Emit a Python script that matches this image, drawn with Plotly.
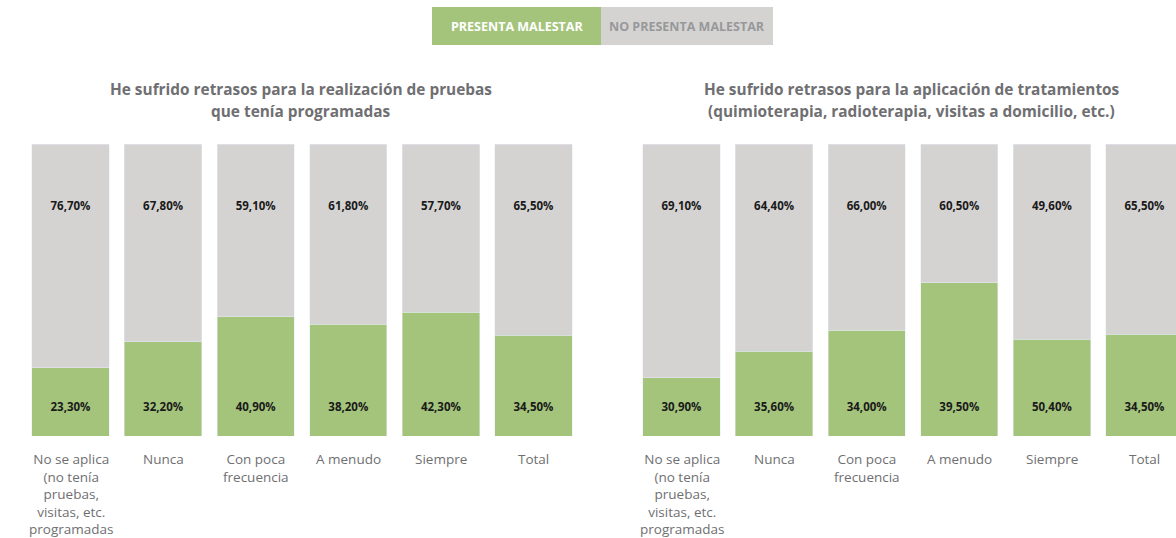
import plotly.graph_objects as go

# ---------------- data ----------------
categories = ["No se aplica<br>(no tenía<br>pruebas,<br>visitas, etc.<br>programadas",
              "Nunca", "Con poca<br>frecuencia", "A menudo", "Siempre", "Total"]

left_title = ["He sufrido retrasos para la realización de pruebas", "que tenía programadas"]
right_title = ["He sufrido retrasos para la aplicación de tratamientos",
               "(quimioterapia, radioterapia, visitas a domicilio, etc.)"]

# left chart: presenta / no presenta malestar (%)
left_presenta = [23.3, 32.2, 40.9, 38.2, 42.3, 34.5]
left_no_presenta = [76.7, 67.8, 59.1, 61.8, 57.7, 65.5]

# right chart: printed labels
right_presenta_labels = [30.9, 35.6, 34.0, 39.5, 50.4, 34.5]
right_no_presenta_labels = [69.1, 64.4, 66.0, 60.5, 49.6, 65.5]
# right chart: bar heights as drawn in the picture (%)
right_presenta_drawn = [19.9, 29.1, 36.3, 52.4, 33.2, 34.9]

legend_names = ["PRESENTA MALESTAR", "NO PRESENTA MALESTAR"]

# ---------------- style ----------------
GREEN = "#a4c47c"
GRAY = "#d4d3d2"
TITLE_C = "#6f6f72"
LABEL_C = "#6f6f72"
FONT = "Open Sans"
W, H = 1176, 538


def fmt(v):
    return f"{v:.2f}".replace(".", ",") + "%"


def py(p):
    return 1 - p / H


def px(p):
    return p / W


fig = go.Figure()
xs = list(range(len(categories)))
bar_w = 0.835


def add_panel(xa, ya, green, gray, green_lbl, gray_lbl):
    fig.add_trace(go.Bar(x=xs, y=green, marker_color=GREEN, width=bar_w, xaxis=xa, yaxis=ya,
                         name=legend_names[0], showlegend=False, hoverinfo="skip"))
    fig.add_trace(go.Bar(x=xs, y=gray, marker_color=GRAY, width=bar_w, xaxis=xa, yaxis=ya,
                         name=legend_names[1], showlegend=False, hoverinfo="skip"))
    fig.add_trace(go.Scatter(x=xs, y=[78.4] * len(xs), mode="text", text=[fmt(v) for v in gray_lbl],
                             textfont=dict(family=FONT, size=11.5, color="#1a1a1a", weight="bold"),
                             xaxis=xa, yaxis=ya, showlegend=False, hoverinfo="skip", cliponaxis=False))
    fig.add_trace(go.Scatter(x=xs, y=[9.6] * len(xs), mode="text", text=[fmt(v) for v in green_lbl],
                             textfont=dict(family=FONT, size=11.5, color="#1a1a1a", weight="bold"),
                             xaxis=xa, yaxis=ya, showlegend=False, hoverinfo="skip", cliponaxis=False))


add_panel("x", "y", left_presenta, [100 - v for v in left_presenta], left_presenta, left_no_presenta)
add_panel("x2", "y2", right_presenta_drawn, [100 - v for v in right_presenta_drawn],
          right_presenta_labels, right_no_presenta_labels)

pitch = 92.6
l_start = 24.2
r_start = 635.2
r_end_range = -0.5 + (W - r_start) / pitch
ydom = [py(436), py(144)]

fig.update_layout(
    width=W, height=H, autosize=False,
    margin=dict(l=0, r=0, t=0, b=0),
    paper_bgcolor="white", plot_bgcolor="white",
    barmode="stack", showlegend=False,
    xaxis=dict(domain=[px(l_start), px(l_start + 6 * pitch)], range=[-0.5, 5.5], visible=False),
    xaxis2=dict(domain=[px(r_start), 1.0], range=[-0.5, r_end_range], visible=False),
    yaxis=dict(domain=ydom, range=[0, 100], visible=False),
    yaxis2=dict(domain=ydom, range=[0, 100], visible=False, anchor="x2"),
)

ann = []
# titles
for i, line in enumerate(left_title):
    ann.append(dict(x=px(301), y=py(89 + 22 * i), xref="paper", yref="paper", text=line,
                    showarrow=False, xanchor="center", yanchor="middle",
                    font=dict(family=FONT, size=15.4, color=TITLE_C, weight="bold")))
for i, line in enumerate(right_title):
    ann.append(dict(x=px(911.5), y=py(89 + 22 * i), xref="paper", yref="paper", text=line,
                    showarrow=False, xanchor="center", yanchor="middle",
                    font=dict(family=FONT, size=15.4, color=TITLE_C, weight="bold")))

# category labels
for xa in ["x", "x2"]:
    for j, cat in enumerate(categories):
        ann.append(dict(x=j, y=py(448), xref=xa, yref="paper", text=cat,
                        showarrow=False, xanchor="center", yanchor="top", align="center",
                        font=dict(family=FONT, size=13.5, color=LABEL_C)))

# legend boxes
shapes = [
    dict(type="rect", xref="paper", yref="paper", x0=px(432), x1=px(601), y0=py(45), y1=py(7),
         fillcolor=GREEN, line=dict(width=0)),
    dict(type="rect", xref="paper", yref="paper", x0=px(601), x1=px(773), y0=py(45), y1=py(7),
         fillcolor=GRAY, line=dict(width=0)),
]
ann.append(dict(x=px(516.5), y=py(26), xref="paper", yref="paper", text=legend_names[0],
                showarrow=False, xanchor="center", yanchor="middle",
                font=dict(family=FONT, size=12.5, color="white", weight="bold")))
ann.append(dict(x=px(687), y=py(26), xref="paper", yref="paper", text=legend_names[1],
                showarrow=False, xanchor="center", yanchor="middle",
                font=dict(family=FONT, size=12.5, color="#98989a", weight="bold")))

fig.update_layout(annotations=ann, shapes=shapes)

fig.write_html("out.html", config={"displayModeBar": False},
               post_script="document.body.style.margin='0';")
